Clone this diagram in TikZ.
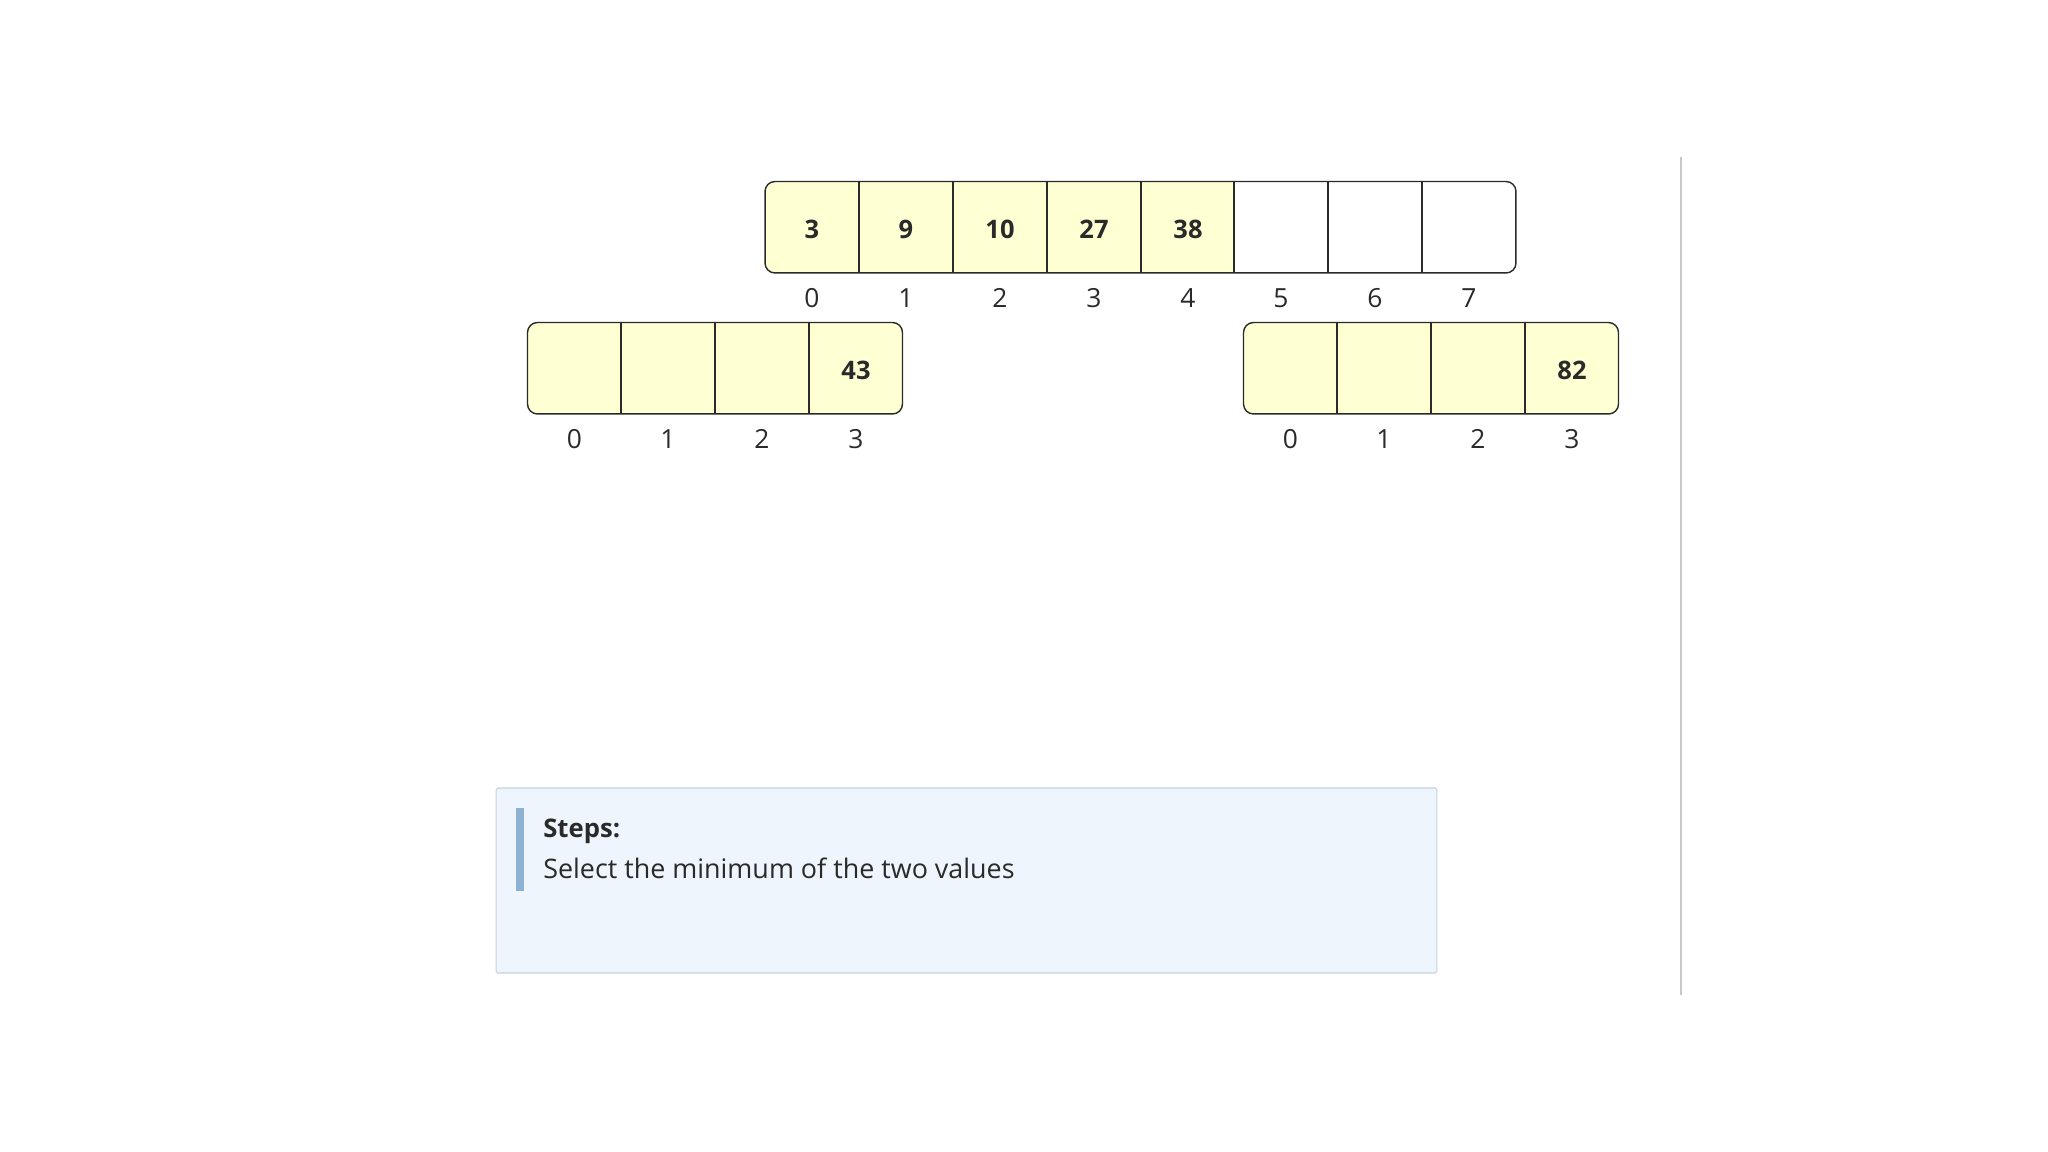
\documentclass[tikz,border=0pt]{standalone}
\usepackage{fontspec}
\setmainfont{Open Sans}
\usetikzlibrary{positioning}

\definecolor{cellfill}{HTML}{FFFFD4}
\definecolor{inkgray}{HTML}{2A2A2A}
\definecolor{notefill}{HTML}{EEF5FC}
\definecolor{notedraw}{HTML}{C5D2DF}
\definecolor{notebar}{HTML}{8DB1D3}
\definecolor{railgray}{HTML}{C8C8C8}

\begin{document}
\begin{tikzpicture}[x=0.02cm,y=-0.02cm,
    cell/.style={rectangle,draw=inkgray,line width=0.8pt,minimum width=1.878cm,minimum height=1.83cm,inner sep=0pt,text height=0.47cm,text depth=0pt,text=inkgray,font=\fontsize{14.5}{16}\selectfont\bfseries},
    full/.style={cell,fill=cellfill},
    blank/.style={cell,fill=white},
    idx/.style={inner sep=0pt,text=inkgray,font=\fontsize{15}{17}\selectfont},
    frame/.style={draw=inkgray,line width=0.8pt,rounded corners=0.2cm}]
    \useasboundingbox (0,0) rectangle (2048,1152);

    % merged array
    \coordinate (mergeNW) at (765,181.5);
    \coordinate (mergeSE) at (1516,273);
    \begin{scope}
        \clip[rounded corners=0.2cm] (mergeNW) rectangle (mergeSE);
        \node[full] (merge0) at (812,227) {3};
        \node[full] (merge1) at (906,227) {9};
        \node[full] (merge2) at (1000,227) {10};
        \node[full] (merge3) at (1094,227) {27};
        \node[full] (merge4) at (1188,227) {38};
        \node[blank] (merge5) at (1281,227) {};
        \node[blank] (merge6) at (1375,227) {};
        \node[blank] (merge7) at (1469,227) {};
    \end{scope}
    \draw[frame] (mergeNW) rectangle (mergeSE);
    \node[idx] (mi0) at (812,298) {0};
    \node[idx] (mi1) at (906,298) {1};
    \node[idx] (mi2) at (1000,298) {2};
    \node[idx] (mi3) at (1094,298) {3};
    \node[idx] (mi4) at (1188,298) {4};
    \node[idx] (mi5) at (1281,298) {5};
    \node[idx] (mi6) at (1375,298) {6};
    \node[idx] (mi7) at (1469,298) {7};

    % left half
    \coordinate (leftNW) at (527.5,322.5);
    \coordinate (leftSE) at (902.5,414);
    \begin{scope}
        \clip[rounded corners=0.2cm] (leftNW) rectangle (leftSE);
        \node[full] (left0) at (574.5,368) {};
        \node[full] (left1) at (668,368) {};
        \node[full] (left2) at (762,368) {};
        \node[full] (left3) at (856,368) {43};
    \end{scope}
    \draw[frame] (leftNW) rectangle (leftSE);
    \node[idx] (li0) at (574.5,439) {0};
    \node[idx] (li1) at (668,439) {1};
    \node[idx] (li2) at (762,439) {2};
    \node[idx] (li3) at (856,439) {3};

    % right half
    \coordinate (rightNW) at (1243.5,322.5);
    \coordinate (rightSE) at (1618.5,414);
    \begin{scope}
        \clip[rounded corners=0.2cm] (rightNW) rectangle (rightSE);
        \node[full] (right0) at (1290.5,368) {};
        \node[full] (right1) at (1384,368) {};
        \node[full] (right2) at (1478,368) {};
        \node[full] (right3) at (1572,368) {82};
    \end{scope}
    \draw[frame] (rightNW) rectangle (rightSE);
    \node[idx] (ri0) at (1290.5,439) {0};
    \node[idx] (ri1) at (1384,439) {1};
    \node[idx] (ri2) at (1478,439) {2};
    \node[idx] (ri3) at (1572,439) {3};

    % steps panel
    \node[rectangle,fill=notefill,draw=notedraw,line width=0.6pt,rounded corners=1pt,minimum width=18.82cm,minimum height=3.7cm,inner sep=0pt] (note) at (966.5,880.5) {};
    \fill[notebar] (516,808) rectangle (524,891);
    \node[idx,anchor=base west,font=\fontsize{14.6}{17}\selectfont\bfseries] (notehead) at (543,837) {Steps:};
    \node[idx,anchor=base west,font=\fontsize{15.3}{17}\selectfont] (notetext) at (543,878) {Select the minimum of the two values};

    % side rule
    \draw[railgray,line width=1.1pt] (1681,157) -- (1681,995);
\end{tikzpicture}
\end{document}
